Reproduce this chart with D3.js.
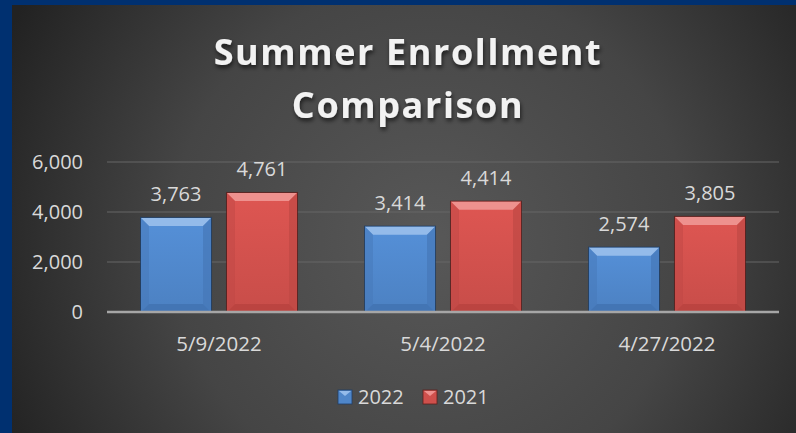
<!DOCTYPE html>
<html>
<head>
<meta charset="utf-8">
<script src="https://cdn.jsdelivr.net/npm/d3@7"></script>
<style>
  html, body { margin: 0; padding: 0; overflow: hidden; background: #262626; }
  svg { display: block; }
  text { font-family: "Open Sans", "Noto Sans", sans-serif; }
</style>
</head>
<body>
<div class="canvas"></div>
<script>
// data
const categories = ['5/9/2022', '5/4/2022', '4/27/2022'];
const seriesNames = ['2022', '2021'];
const values2022 = [3763, 3414, 2574];
const values2021 = [4761, 4414, 3805];
const yTicks = [0, 2000, 4000, 6000];

const W = 796, H = 433;
const frame = { left: 12, top: 5 };
const plot = { left: 107, right: 779, top: 162, bottom: 312 };

const svg = d3.select('.canvas').append('svg')
    .attr('width', W)
    .attr('height', H);

const defs = svg.append('defs');

// background radial gradient
const bg = defs.append('radialGradient')
    .attr('id', 'bg')
    .attr('gradientUnits', 'userSpaceOnUse')
    .attr('cx', 430).attr('cy', 240).attr('r', 470);
bg.append('stop').attr('offset', '0%').attr('stop-color', '#585858');
bg.append('stop').attr('offset', '55%').attr('stop-color', '#454545');
bg.append('stop').attr('offset', '100%').attr('stop-color', '#222');

// title shadow
const sh = defs.append('filter').attr('id', 'shadow')
    .attr('x', '-10%').attr('y', '-20%').attr('width', '120%').attr('height', '160%');
sh.append('feDropShadow')
    .attr('dx', 1).attr('dy', 3).attr('stdDeviation', 2)
    .attr('flood-color', '#000').attr('flood-opacity', 0.6);

// bar colours
const palette = {
    '2022': { main: '#4f86c9', top: '#94bbea', side: '#4677b8', bottom: '#4172b0', edge: '#1f3e66' },
    '2021': { main: '#cf504c', top: '#ee918e', side: '#bf4845', bottom: '#b8423f', edge: '#5e1e1c' }
};
seriesNames.forEach(s => {
    const g = defs.append('linearGradient').attr('id', 'grad' + s)
        .attr('x1', 0).attr('y1', 0).attr('x2', 0).attr('y2', 1);
    g.append('stop').attr('offset', '0%').attr('stop-color', d3.color(palette[s].main).brighter(0.2));
    g.append('stop').attr('offset', '100%').attr('stop-color', d3.color(palette[s].main).darker(0.1));
});

// chart area + blue frame strips (left and top only)
svg.append('rect')
    .attr('x', 0).attr('y', 0)
    .attr('width', W).attr('height', H)
    .attr('fill', 'url(#bg)');
svg.append('rect').attr('x', 0).attr('y', 0).attr('width', frame.left).attr('height', H).attr('fill', '#003070');
svg.append('rect').attr('x', 0).attr('y', 0).attr('width', W).attr('height', frame.top).attr('fill', '#003070');

// scales
const x0 = d3.scaleBand().domain(categories).range([plot.left, plot.right]).padding(0);
const x1 = d3.scaleBand().domain(seriesNames)
    .range([34, x0.bandwidth() - 34])
    .paddingInner(0.186);
const y = d3.scaleLinear().domain([0, 6000]).range([plot.bottom, plot.top]);

// gridlines
svg.append('g').selectAll('line')
    .data(yTicks.filter(d => d > 0))
    .join('line')
    .attr('x1', plot.left).attr('x2', plot.right)
    .attr('y1', d => y(d)).attr('y2', d => y(d))
    .attr('stroke', '#666').attr('stroke-width', 1);

// y axis
const yAxis = d3.axisLeft(y).tickValues(yTicks).tickFormat(d3.format(',')).tickSize(0).tickPadding(0);
const yAxisGroup = svg.append('g')
    .attr('transform', `translate(83,0)`)
    .call(yAxis);
yAxisGroup.select('.domain').remove();
yAxisGroup.selectAll('text')
    .attr('fill', '#d9d9d9')
    .style('font-size', '20px')
    .style('font-family', '"Open Sans", sans-serif');

// bars
const rows = categories.map((c, i) => ({ cat: c, vals: [
    { s: '2022', v: values2022[i] },
    { s: '2021', v: values2021[i] }
] }));

const bev = 8;
const groups = svg.append('g').selectAll('g')
    .data(rows)
    .join('g')
    .attr('transform', d => `translate(${x0(d.cat)},0)`);

const bar = groups.selectAll('g.bar')
    .data(d => d.vals)
    .join('g').attr('class', 'bar');

bar.each(function (d) {
    const g = d3.select(this);
    const c = palette[d.s];
    const xl = x1(d.s), xr = x1(d.s) + x1.bandwidth();
    const yt = y(d.v), yb = y(0);
    g.append('rect')
        .attr('x', xl - 1).attr('y', yt - 1)
        .attr('width', x1.bandwidth() + 2).attr('height', yb - yt + 1)
        .attr('fill', c.edge).attr('opacity', 0.8);
    g.append('rect')
        .attr('x', xl).attr('y', yt)
        .attr('width', x1.bandwidth()).attr('height', yb - yt)
        .attr('fill', `url(#grad${d.s})`);
    // top bevel
    g.append('polygon')
        .attr('points', [[xl, yt], [xr, yt], [xr - bev, yt + bev], [xl + bev, yt + bev]].join(' '))
        .attr('fill', c.top);
    // side bevels
    g.append('polygon')
        .attr('points', [[xl, yt], [xl + bev, yt + bev], [xl + bev, yb - bev], [xl, yb]].join(' '))
        .attr('fill', c.side).attr('opacity', 0.5);
    g.append('polygon')
        .attr('points', [[xr, yt], [xr - bev, yt + bev], [xr - bev, yb - bev], [xr, yb]].join(' '))
        .attr('fill', c.side).attr('opacity', 0.7);
    g.append('polygon')
        .attr('points', [[xl, yb], [xl + bev, yb - bev], [xr - bev, yb - bev], [xr, yb]].join(' '))
        .attr('fill', c.bottom).attr('opacity', 0.8);
});

// data labels
bar.append('text')
    .attr('x', d => x1(d.s) + x1.bandwidth() / 2)
    .attr('y', d => y(d.v) - 17)
    .attr('text-anchor', 'middle')
    .attr('fill', '#d9d9d9')
    .style('font-size', '20px')
    .text(d => d3.format(',')(d.v));

// zero line
svg.append('line')
    .attr('x1', plot.left).attr('x2', plot.right)
    .attr('y1', y(0)).attr('y2', y(0))
    .attr('stroke', '#a6a6a6').attr('stroke-width', 2.5);

// x axis
const xAxis = d3.axisBottom(x0).tickSize(0).tickPadding(0);
const xAxisGroup = svg.append('g')
    .attr('transform', `translate(0,${plot.bottom + 24})`)
    .call(xAxis);
xAxisGroup.select('.domain').remove();
xAxisGroup.selectAll('text')
    .attr('fill', '#d9d9d9')
    .attr('dy', '0.71em')
    .attr('y', 0)
    .style('font-size', '20.5px')
    .style('font-family', '"Open Sans", sans-serif');

// title
const title = svg.append('text')
    .attr('text-anchor', 'middle')
    .attr('fill', '#f2f2f2')
    .attr('filter', 'url(#shadow)')
    .style('font-size', '36px')
    .style('font-weight', 'bold')
    .style('letter-spacing', '1.6px');
title.append('tspan').attr('x', 408).attr('y', 65).text('Summer Enrollment');
title.append('tspan').attr('x', 408).attr('y', 118).text('Comparison');

// legend
const legendX = [338, 423];
const legend = svg.append('g').selectAll('g')
    .data(seriesNames)
    .join('g')
    .attr('transform', (d, i) => `translate(${legendX[i]},390)`);
legend.append('rect')
    .attr('width', 14).attr('height', 14)
    .attr('fill', d => palette[d].main)
    .attr('stroke', d => palette[d].edge).attr('stroke-width', 0.8);
legend.append('polygon')
    .attr('points', '1,1 13,1 7,6')
    .attr('fill', d => palette[d].top);
legend.append('text')
    .attr('x', 20).attr('y', 14)
    .attr('fill', '#d9d9d9')
    .style('font-size', '20px')
    .text(d => d);
</script>
</body>
</html>
